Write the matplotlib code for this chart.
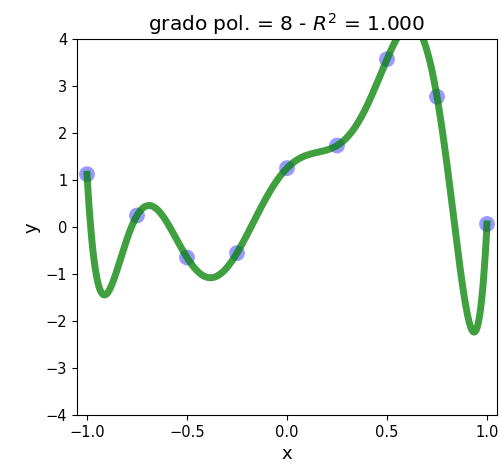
import numpy as np
import matplotlib.pyplot as plt

# puntos observados
x_obs = [-1.0, -0.75, -0.5, -0.25, 0.0, 0.25, 0.5, 0.75, 1.0]
y_obs = [1.13, 0.25, -0.645, -0.55, 1.26, 1.74, 3.58, 2.78, 0.07]
grado = 8
x_ticks = [-1.0, -0.5, 0.0, 0.5, 1.0]


def main():
	coefs = np.polyfit(x_obs, y_obs, grado)
	y_hat = np.polyval(coefs, x_obs)
	ss_res = np.sum((np.array(y_obs) - y_hat) ** 2)
	ss_tot = np.sum((np.array(y_obs) - np.mean(y_obs)) ** 2)
	r2 = 1 - ss_res / ss_tot

	xx = np.linspace(min(x_obs), max(x_obs), 400)
	yy = np.polyval(coefs, xx)

	fig = plt.figure(figsize=(5, 4.7), dpi=100)
	ax = fig.add_axes([0.154, 0.117, 0.84, 0.799])
	ax.scatter(x_obs, y_obs, s=130, color='blue', alpha=0.4, edgecolors='none', zorder=1)
	ax.plot(xx, yy, color='g', lw=5, alpha=0.75, zorder=2)
	ax.set_xlim(-1.05, 1.05)
	ax.set_ylim(-4, 4)
	ax.set_xticks(x_ticks)
	ax.tick_params(labelsize=10.5)
	ax.set_xlabel('x', fontsize=13)
	ax.set_ylabel('y', fontsize=13)
	ax.set_title('grado pol. = %d - $R^2$ = %.3f' % (grado, r2), fontsize=14.5)
	fig.savefig('out.png')


if __name__ == '__main__':
	main()
